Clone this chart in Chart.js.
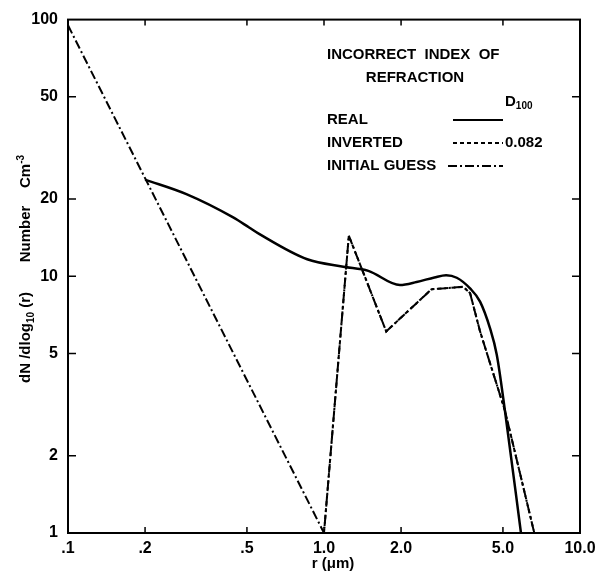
<!DOCTYPE html>
<html>
<head>
<meta charset="utf-8">
<script src="https://cdn.jsdelivr.net/npm/chart.js@4"></script>
<style>
	body { margin: 0; background: #fff; }
	canvas { display: block; }
</style>
</head>
<body>
<canvas id="c" width="597" height="572"></canvas>
<script>
// r (um) and dN/dlog10(r)
const realX = [0.2, 0.29, 0.44, 0.51, 0.56, 0.86, 1.19, 1.49, 1.98, 2.3, 2.7, 3.0, 3.3, 3.72, 4.07, 4.45, 4.73, 5.09, 5.88];
const realY = [23.8, 20.9, 17.0, 15.5, 14.6, 11.65, 10.9, 10.5, 9.25, 9.5, 9.9, 10.1, 9.87, 8.97, 7.97, 6.28, 4.95, 3.0, 1.0];

const invertedX = [1.0, 1.25, 1.75, 2.63, 3.5, 3.72, 4.07, 5.09, 6.63];
const invertedY = [1.0, 14.4, 6.1, 8.9, 9.1, 8.6, 6.1, 3.0, 1.0];

const guessX = [0.1, 1.0, 1.25, 1.75, 2.63, 3.5, 3.72, 4.07, 5.09, 6.63];
const guessY = [95, 1.0, 14.4, 6.1, 8.9, 9.1, 8.6, 6.1, 3.0, 1.0];

const xTickVals = [0.1, 0.2, 0.5, 1, 2, 5, 10];
const xTickLabels = ['.1', '.2', '.5', '1.0', '2.0', '5.0', '10.0'];
const yTickVals = [1, 2, 5, 10, 20, 50, 100];
const yTickLabels = ['1', '2', '5', '10', '20', '50', '100'];

const legendLabels = ['REAL', 'INVERTED', 'INITIAL GUESS'];
const legendValues = ['', '0.082', ''];

const FONT = '"Liberation Sans", Arial, sans-serif';

function pts(xs, ys) {
	return xs.map((x, i) => ({x: x, y: ys[i]}));
}

const dashes = [[], [4, 3], [9, 3, 2, 3]];

const decor = {
	id: 'decor',
	afterDraw(chart) {
		const ctx = chart.ctx;
		const a = chart.chartArea;
		const xs = chart.scales.x;
		const ys = chart.scales.y;
		ctx.save();
		ctx.strokeStyle = '#000';
		ctx.fillStyle = '#000';
		ctx.lineWidth = 2;
		ctx.strokeRect(a.left, a.top, a.right - a.left, a.bottom - a.top);

		// inward ticks
		ctx.lineWidth = 1.5;
		ctx.beginPath();
		for(const v of xTickVals.slice(1, -1))
		{
			const px = xs.getPixelForValue(v);
			ctx.moveTo(px, a.bottom); ctx.lineTo(px, a.bottom - 6);
			ctx.moveTo(px, a.top); ctx.lineTo(px, a.top + 6);
		}
		for(const v of yTickVals.slice(1, -1))
		{
			const py = ys.getPixelForValue(v);
			ctx.moveTo(a.left, py); ctx.lineTo(a.left + 8, py);
			ctx.moveTo(a.right, py); ctx.lineTo(a.right - 8, py);
		}
		ctx.stroke();

		// x title
		ctx.font = 'bold 15px ' + FONT;
		ctx.textAlign = 'center';
		ctx.textBaseline = 'middle';
		ctx.fillText('r (\u03bcm)', 333, 564);

		// y title
		ctx.save();
		ctx.translate(26, 0);
		ctx.rotate(-Math.PI / 2);
		ctx.textAlign = 'left';
		ctx.font = 'bold 15px ' + FONT;
		let p = -383;
		ctx.fillText('dN /dlog', p, 0);
		p += ctx.measureText('dN /dlog').width;
		ctx.font = 'bold 10px ' + FONT;
		ctx.fillText('10', p, 5);
		p += ctx.measureText('10').width;
		ctx.font = 'bold 15px ' + FONT;
		ctx.fillText(' (r)', p, 0);
		ctx.textAlign = 'center';
		ctx.fillText('Number', -234, 0);
		ctx.textAlign = 'left';
		p = -188;
		ctx.fillText('Cm', p, 0);
		p += ctx.measureText('Cm').width;
		ctx.font = 'bold 10px ' + FONT;
		ctx.fillText('-3', p, -5);
		ctx.restore();

		// legend block
		ctx.font = 'bold 15px ' + FONT;
		ctx.textAlign = 'left';
		ctx.fillText('INCORRECT  INDEX  OF', 327, 55);
		ctx.textAlign = 'center';
		ctx.fillText('REFRACTION', 415, 78);
		ctx.textAlign = 'left';
		ctx.fillText('D', 505, 102);
		const dw = ctx.measureText('D').width;
		ctx.font = 'bold 10px ' + FONT;
		ctx.fillText('100', 505 + dw, 106);
		ctx.font = 'bold 15px ' + FONT;
		legendLabels.forEach((lab, i) => {
			const y = 120 + i * 23;
			ctx.fillText(lab, 327, y);
			ctx.lineWidth = 2;
			ctx.setLineDash(dashes[i]);
			ctx.beginPath();
			ctx.moveTo(i == 2 ? 448 : 453, y);
			ctx.lineTo(503, y);
			ctx.stroke();
			ctx.setLineDash([]);
			if(legendValues[i])
				ctx.fillText(legendValues[i], 505, y);
		});
		ctx.restore();
	}
};

new Chart(document.getElementById('c'), {
	type: 'line',
	data: {
		datasets: [
			{
				label: 'REAL',
				data: pts(realX, realY),
				borderColor: '#000',
				borderWidth: 2.5,
				pointRadius: 0,
				cubicInterpolationMode: 'monotone',
			},
			{
				label: 'INVERTED',
				data: pts(invertedX, invertedY),
				borderColor: '#000',
				borderWidth: 2,
				borderDash: [4, 3],
				pointRadius: 0,
			},
			{
				label: 'INITIAL GUESS',
				data: pts(guessX, guessY),
				borderColor: '#000',
				borderWidth: 2,
				borderDash: [9, 3, 2, 3],
				pointRadius: 0,
			},
		],
	},
	options: {
		animation: false,
		responsive: false,
		devicePixelRatio: 1,
		layout: {
			padding: {left: 0, right: 17, top: 16, bottom: 0},
		},
		plugins: {
			legend: {display: false},
			tooltip: {enabled: false},
		},
		scales: {
			x: {
				type: 'logarithmic',
				min: 0.1,
				max: 10,
				grid: {display: false, drawTicks: false},
				border: {display: false},
				afterBuildTicks: scale => {
					scale.ticks = xTickVals.map(v => ({value: v}));
				},
				afterFit: scale => {
					scale.height = 39;
					scale.paddingRight = 0;
					scale.paddingLeft = 0;
				},
				ticks: {
					autoSkip: false,
					maxRotation: 0,
					padding: 6,
					color: '#000',
					font: {family: FONT, size: 16, weight: 'bold'},
					callback: (v, i) => xTickLabels[i],
				},
			},
			y: {
				type: 'logarithmic',
				min: 1,
				max: 100,
				grid: {display: false, drawTicks: false},
				border: {display: false},
				afterBuildTicks: scale => {
					scale.ticks = yTickVals.map(v => ({value: v}));
				},
				afterFit: scale => {
					scale.width = 68;
				},
				ticks: {
					autoSkip: false,
					padding: 10,
					color: '#000',
					font: {family: FONT, size: 16, weight: 'bold'},
					callback: (v, i) => yTickLabels[i],
				},
			},
		},
	},
	plugins: [decor],
});
</script>
</body>
</html>
